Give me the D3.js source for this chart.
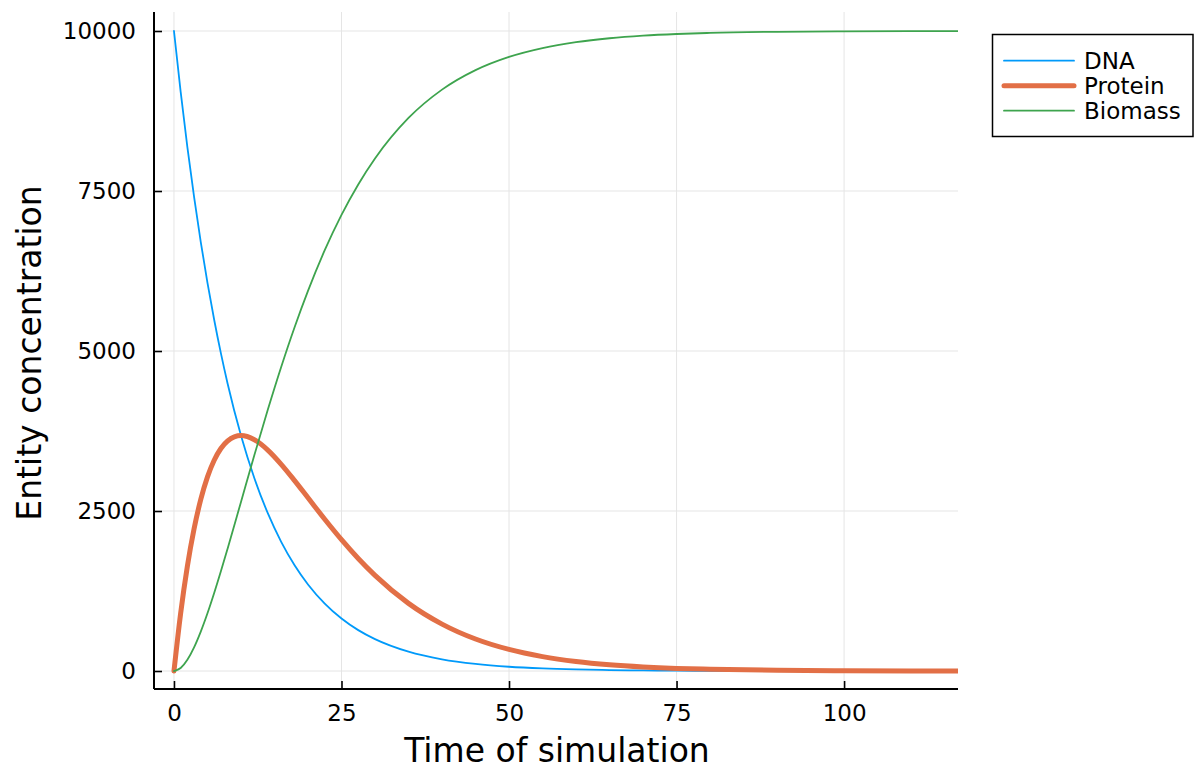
<!DOCTYPE html>
<html>
<head>
<meta charset="utf-8">
<script src="https://cdn.jsdelivr.net/npm/d3@7"></script>
<style>
  body { margin: 0; background: #fff; }
  svg { font-family: "DejaVu Sans", sans-serif; }
</style>
</head>
<body>
<svg id="chart"></svg>
<script>
const times = [0, 1, 2, 3, 4, 5, 6, 7, 8, 10, 12, 14, 16, 18, 20, 22.5, 25, 27.5, 30, 35, 40, 45, 50, 55, 60, 65, 70, 75, 80, 90, 100, 110, 117];
const dnaValues = [10000, 9048, 8187, 7408, 6703, 6065, 5488, 4966, 4493, 3679, 3012, 2466, 2019, 1653, 1353, 1054, 821, 639, 498, 302, 183, 111, 67, 41, 25, 15, 9, 6, 3, 1, 0, 0, 0];
const proteinValues = [0, 905, 1637, 2222, 2681, 3033, 3293, 3476, 3595, 3679, 3614, 3452, 3230, 2975, 2707, 2371, 2052, 1758, 1494, 1057, 733, 500, 337, 225, 149, 98, 64, 41, 27, 11, 5, 2, 1];
const biomassValues = [0, 47, 176, 370, 616, 902, 1219, 1558, 1912, 2642, 3374, 4082, 4751, 5372, 5940, 6575, 7127, 7603, 8008, 8641, 9084, 9389, 9596, 9734, 9826, 9887, 9927, 9953, 9970, 9988, 9995, 9998, 9999];

const xTicks = [0, 25, 50, 75, 100];
const yTicks = [0, 2500, 5000, 7500, 10000];
const seriesNames = ["DNA", "Protein", "Biomass"];

const width = 1197;
const height = 769;
const margin = { left: 154, right: 239, top: 12, bottom: 80 };

const colors = ["#009afa", "#e26f46", "#3ea44e"];
const lineWidths = [1.8, 5, 1.8];

const svg = d3.select("#chart").attr("width", width).attr("height", height);

let xScale = d3.scaleLinear()
  .domain([-2.98, 117])
  .range([margin.left, width - margin.right]);

let yScale = d3.scaleLinear()
  .domain([-281, 10297])
  .range([height - margin.bottom, margin.top]);

// grid
svg.append("g")
  .selectAll("line")
  .data(xTicks)
  .enter()
  .append("line")
  .attr("x1", (d) => xScale(d))
  .attr("x2", (d) => xScale(d))
  .attr("y1", margin.top)
  .attr("y2", height - margin.bottom)
  .attr("stroke", "#e5e5e5")
  .attr("stroke-width", 1);

svg.append("g")
  .selectAll("line")
  .data(yTicks)
  .enter()
  .append("line")
  .attr("x1", margin.left)
  .attr("x2", width - margin.right)
  .attr("y1", (d) => yScale(d))
  .attr("y2", (d) => yScale(d))
  .attr("stroke", "#e5e5e5")
  .attr("stroke-width", 1);

// lines
const series = [dnaValues, proteinValues, biomassValues];
const line = d3.line()
  .x((d, i) => xScale(times[i]))
  .y((d) => yScale(d))
  .curve(d3.curveMonotoneX);

svg.append("defs").append("clipPath").attr("id", "clip")
  .append("rect")
  .attr("x", margin.left)
  .attr("y", margin.top)
  .attr("width", width - margin.left - margin.right)
  .attr("height", height - margin.top - margin.bottom);

svg.append("g")
  .attr("clip-path", "url(#clip)")
  .selectAll("path")
  .data(series)
  .enter()
  .append("path")
  .attr("d", (d) => line(d))
  .attr("fill", "none")
  .attr("stroke", (d, i) => colors[i])
  .attr("stroke-width", (d, i) => lineWidths[i])
  .attr("stroke-linejoin", "round")
  .attr("stroke-linecap", "round");

// axes
let xAxis = d3.axisBottom(xScale).tickValues(xTicks).tickSize(-8).tickPadding(16).tickFormat(d3.format("d"));
let yAxis = d3.axisLeft(yScale).tickValues(yTicks).tickSize(-8).tickPadding(18).tickFormat(d3.format("d"));

const gx = svg.append("g")
  .attr("transform", "translate(0, " + (height - margin.bottom) + ")")
  .call(xAxis);
gx.select(".domain").attr("d", "M" + margin.left + ",0H" + (width - margin.right)).attr("stroke-width", 2);

const gy = svg.append("g")
  .attr("transform", "translate(" + margin.left + ", 0)")
  .call(yAxis);
gy.select(".domain").attr("d", "M0," + margin.top + "V" + (height - margin.bottom)).attr("stroke-width", 2);

svg.selectAll(".tick line").attr("stroke-width", 1.6);
svg.selectAll(".tick text").attr("font-size", 23).attr("font-family", "DejaVu Sans").attr("fill", "#000");

// axis labels
svg.append("text")
  .attr("x", 557)
  .attr("y", 762)
  .attr("text-anchor", "middle")
  .attr("font-size", 33)
  .text("Time of simulation");

svg.append("text")
  .attr("transform", "translate(41, 353) rotate(-90)")
  .attr("text-anchor", "middle")
  .attr("font-size", 33)
  .text("Entity concentration");

// legend
const legend = svg.append("g");
legend.append("rect")
  .attr("x", 992.5)
  .attr("y", 34.5)
  .attr("width", 200.5)
  .attr("height", 102)
  .attr("fill", "#fff")
  .attr("stroke", "#000")
  .attr("stroke-width", 1.5);

const items = legend.selectAll("g.item")
  .data(seriesNames)
  .enter()
  .append("g")
  .attr("transform", (d, i) => "translate(0, " + (60.7 + i * 25) + ")");

items.append("line")
  .attr("x1", 1004)
  .attr("x2", 1074)
  .attr("stroke", (d, i) => colors[i])
  .attr("stroke-width", (d, i) => lineWidths[i])
  .attr("stroke-linecap", "round");

items.append("text")
  .attr("x", 1084)
  .attr("dy", "0.35em")
  .attr("font-size", 23)
  .text((d) => d);
</script>
</body>
</html>
